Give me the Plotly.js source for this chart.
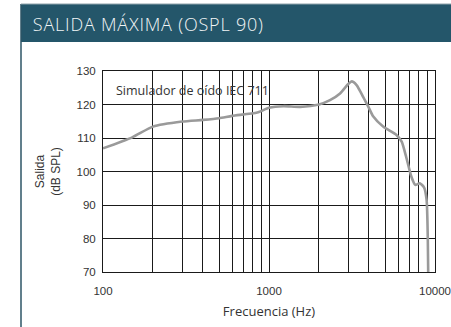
<!DOCTYPE html>
<html><head><meta charset="utf-8">
<script src="https://cdn.plot.ly/plotly-3.0.1.min.js"></script>
<style>html,body{margin:0;padding:0;background:#fff}#c{width:451px;height:327px}
g.annotation[data-index="0"] text{letter-spacing:0.8px}</style>
</head><body><div id="c"></div>
<script>
// Data (frequency in Hz, output in dB SPL)
const freqHz = [100, 150, 200, 300, 400, 500, 600, 850, 1000, 1220, 1540, 2000, 2330, 2680, 3000, 3150, 3370, 3690, 3970, 4250, 4870, 5860, 6300, 6700, 7200, 7600, 8100, 8600, 8900, 9050, 9100];
const outputDb = [106.9, 110.2, 113.4, 114.9, 115.4, 115.9, 116.6, 117.6, 119.0, 119.5, 119.3, 120.0, 121.3, 123.3, 126.1, 126.9, 125.8, 122.3, 119.3, 116.4, 113.4, 110.9, 108.9, 104.4, 98.5, 96.0, 96.5, 95.2, 91.5, 80, 70];
const gridFreqs = [100, 200, 300, 400, 500, 600, 700, 800, 900, 1000, 2000, 3000, 4000, 5000, 6000, 7000, 8000, 9000, 10000];
const labeledFreqs = [100, 1000, 10000];
const yTicks = [70, 80, 90, 100, 110, 120, 130];
const headerTitle = "SALIDA MÁXIMA (OSPL 90)";
const noteText = "Simulador de oído IEC 711";

const tickFont = {family: "Liberation Sans, Arial, sans-serif", size: 11.5, color: "#333"};
const titleFont = {family: "Open Sans, sans-serif", size: 13, color: "#333"};
const yTitleFont = {family: "Liberation Sans, Arial, sans-serif", size: 12, color: "#333"};

const trace = {
  x: freqHz, y: outputDb, type: "scatter", mode: "lines",
  line: {color: "#9a9a9a", width: 2.6, shape: "spline", smoothing: 0.6},
  hoverinfo: "skip"
};

const layout = {
  width: 451, height: 327,
  margin: {l: 103, r: 16, t: 71, b: 55},
  paper_bgcolor: "#fff", plot_bgcolor: "#fff",
  showlegend: false,
  xaxis: {
    type: "log", range: [2, 4],
    tickvals: gridFreqs,
    ticktext: gridFreqs.map(v => labeledFreqs.includes(v) ? String(v) : ""),
    showgrid: true, gridcolor: "#1a1a1a", gridwidth: 1,
    showline: true, linecolor: "#1a1a1a", linewidth: 1, mirror: true,
    ticks: "outside", ticklen: 8, tickcolor: "rgba(0,0,0,0)",
    tickfont: tickFont, zeroline: false,
    title: {text: "Frecuencia (Hz)", font: titleFont, standoff: 11}
  },
  yaxis: {
    range: [70, 130], tickvals: yTicks,
    showgrid: true, gridcolor: "#1a1a1a", gridwidth: 1,
    showline: true, linecolor: "#1a1a1a", linewidth: 1, mirror: true,
    ticks: "outside", ticklen: 4, tickcolor: "rgba(0,0,0,0)",
    tickfont: tickFont, zeroline: false,
    title: {text: "Salida<br>(dB SPL)", font: yTitleFont, standoff: 13}
  },
  shapes: [
    {type: "rect", xref: "paper", yref: "paper", x0: -82/332, x1: 1.2, y0: (327-55-42)/201 + 0, y1: (327-55-4)/201,
     fillcolor: "#24566a", line: {width: 0}, layer: "below"},
    {type: "line", xref: "paper", yref: "paper", x0: -82/332, x1: -82/332, y0: -56/201, y1: (327-55-4)/201,
     line: {color: "#2d5566", width: 1.5}},
    {type: "line", xref: "paper", yref: "paper", x0: -82/332, x1: 1.2, y0: (327-55-4)/201, y1: (327-55-4)/201,
     line: {color: "#8fa3ab", width: 1}}
  ],
  annotations: [
    {text: headerTitle, xref: "paper", yref: "paper", x: -63/332, y: (327-55-24)/201,
     xanchor: "left", yanchor: "middle", showarrow: false,
     font: {family: "Open Sans, sans-serif", size: 18, weight: 300, color: "#f2f5f6"}},
    {text: noteText, xref: "paper", yref: "paper", x: 11/332, y: (201-19)/201,
     xanchor: "left", yanchor: "middle", showarrow: false,
     font: {family: "Open Sans, sans-serif", size: 12.5, color: "#333"}}
  ]
};

Plotly.newPlot("c", [trace], layout, {displayModeBar: false, staticPlot: true});
</script></body></html>
